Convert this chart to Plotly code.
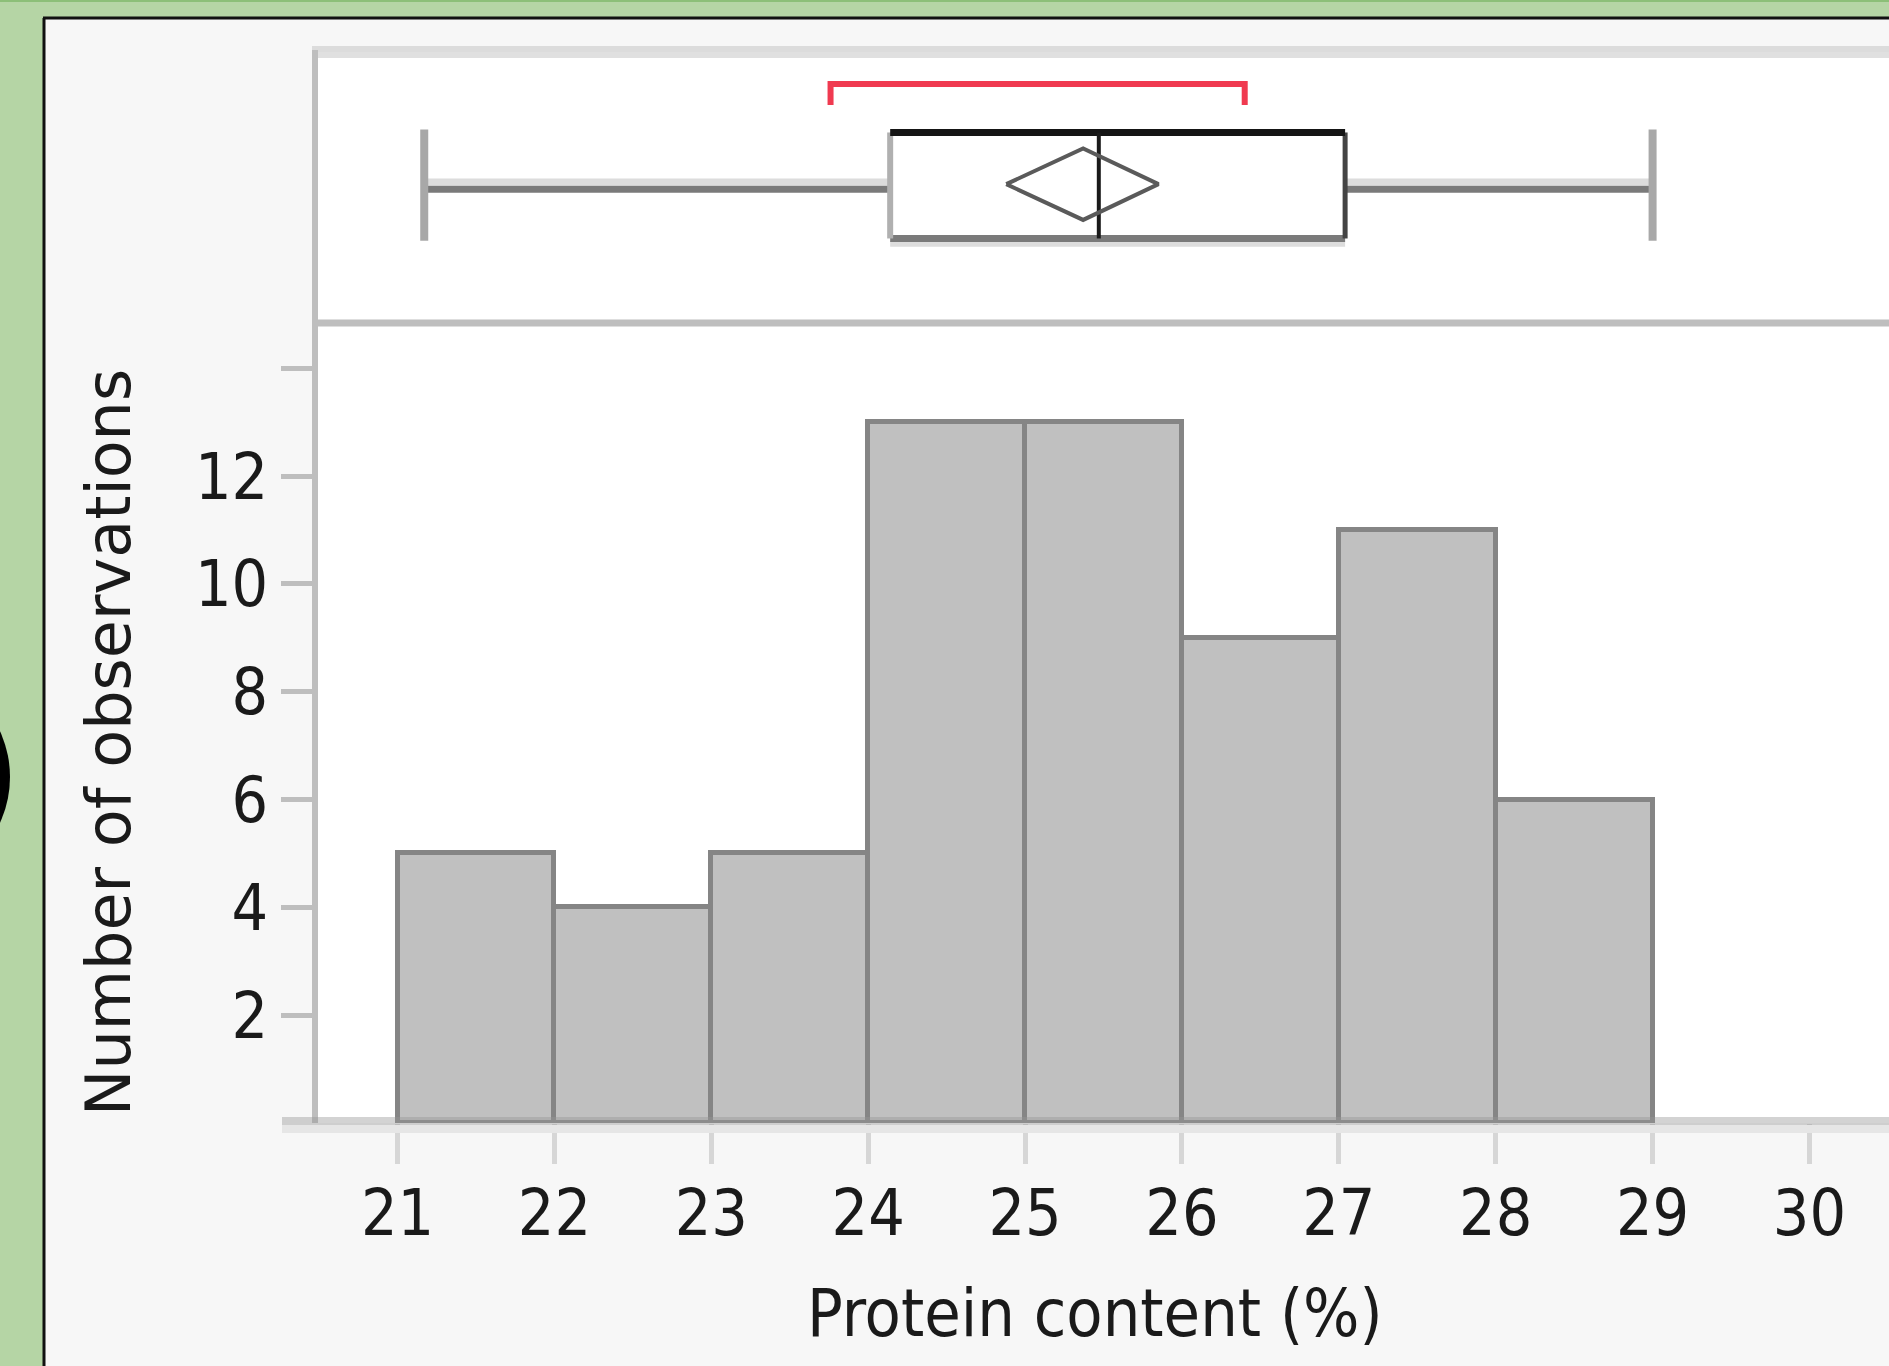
import plotly.graph_objects as go

# ---------------- data ----------------
bin_left = [21, 22, 23, 24, 25, 26, 27, 28]
counts = [5, 4, 5, 13, 13, 9, 11, 6]
bin_width = 1
x_ticks = [21, 22, 23, 24, 25, 26, 27, 28, 29, 30]
x_tick_labels = [str(v) for v in x_ticks]
y_ticks = [2, 4, 6, 8, 10, 12, 14]
y_tick_labels = ["2", "4", "6", "8", "10", "12", ""]

whisker_low = 21.17
q1 = 24.14
median = 25.47
q3 = 27.04
whisker_high = 29.0
mean = 25.37
mean_ci_low = 24.88
mean_ci_high = 25.85
short_half_low = 23.76
short_half_high = 26.40

x_title = "Protein content (%)"
y_title = "Number of observations"

# ---------------- layout geometry (pixels) ----------------
W, H = 1889, 1366
L, R, T, B = 316, 1889, 58, 1123
SEP = 323


def px(x):
    return (x - L) / (R - L)


def py(y):
    return (B - y) / (B - T)


split = py(SEP)

fig = go.Figure()

centers = [b + bin_width / 2 for b in bin_left]
fig.add_trace(go.Bar(
    x=centers, y=counts, width=bin_width,
    marker=dict(color="#C0C0C0", line=dict(color="#858585", width=5)),
    xaxis="x", yaxis="y", hoverinfo="x+y", showlegend=False,
))

# box-plot panel traces (y2 in 0..1)
box_bot, box_top = 0.319, 0.719
cap_bot, cap_top = 0.31, 0.73
wy = 0.505
for (a, b) in [(whisker_low, q1), (q3, whisker_high)]:
    fig.add_trace(go.Scatter(x=[a, b], y=[wy + 0.027, wy + 0.027], mode="lines",
                             line=dict(color="#DCDCDC", width=7), xaxis="x2", yaxis="y2",
                             showlegend=False, hoverinfo="skip"))
    fig.add_trace(go.Scatter(x=[a, b], y=[wy, wy], mode="lines",
                             line=dict(color="#7A7A7A", width=7), xaxis="x2", yaxis="y2",
                             showlegend=False, hoverinfo="skip"))
for v in [whisker_low, whisker_high]:
    fig.add_trace(go.Scatter(x=[v, v], y=[cap_bot, cap_top], mode="lines",
                             line=dict(color="#A8A8A8", width=8), xaxis="x2", yaxis="y2",
                             showlegend=False, hoverinfo="skip"))
fig.add_trace(go.Scatter(x=[q1, q3, q3, q1, q1], y=[box_bot, box_bot, box_top, box_top, box_bot],
                         mode="lines", fill="toself", fillcolor="white",
                         line=dict(color="rgba(0,0,0,0)", width=0), xaxis="x2", yaxis="y2",
                         showlegend=False, hoverinfo="skip"))
fig.add_trace(go.Scatter(x=[q1, q3], y=[box_bot - 0.02, box_bot - 0.02], mode="lines",
                         line=dict(color="#DDDDDD", width=6), xaxis="x2", yaxis="y2",
                         showlegend=False, hoverinfo="skip"))
fig.add_trace(go.Scatter(x=[q1, q3], y=[box_bot, box_bot], mode="lines",
                         line=dict(color="#7A7A7A", width=7), xaxis="x2", yaxis="y2",
                         showlegend=False, hoverinfo="skip"))
fig.add_trace(go.Scatter(x=[q1, q1], y=[box_bot, box_top], mode="lines",
                         line=dict(color="#B0B0B0", width=6), xaxis="x2", yaxis="y2",
                         showlegend=False, hoverinfo="skip"))
fig.add_trace(go.Scatter(x=[q3, q3], y=[box_bot, box_top], mode="lines",
                         line=dict(color="#444444", width=5), xaxis="x2", yaxis="y2",
                         showlegend=False, hoverinfo="skip"))
fig.add_trace(go.Scatter(x=[q1, q3], y=[box_top, box_top], mode="lines",
                         line=dict(color="#151515", width=7), xaxis="x2", yaxis="y2",
                         showlegend=False, hoverinfo="skip"))
fig.add_trace(go.Scatter(x=[median, median], y=[box_bot, box_top], mode="lines",
                         line=dict(color="#1A1A1A", width=4), xaxis="x2", yaxis="y2",
                         showlegend=False, hoverinfo="skip"))
dc, dh = 0.524, 0.135
fig.add_trace(go.Scatter(x=[mean_ci_low, mean, mean_ci_high, mean, mean_ci_low],
                         y=[dc, dc + dh, dc, dc - dh, dc], mode="lines",
                         line=dict(color="#5A5A5A", width=4), xaxis="x2", yaxis="y2",
                         showlegend=False, hoverinfo="skip"))
fig.add_trace(go.Scatter(x=[short_half_low, short_half_low, short_half_high, short_half_high],
                         y=[0.823, 0.902, 0.902, 0.823], mode="lines",
                         line=dict(color="#F03A50", width=6), xaxis="x2", yaxis="y2",
                         showlegend=False, hoverinfo="skip"))

tick_font = dict(family="DejaVu Sans Condensed, DejaVu Sans", size=64, color="#1A1A1A")

fig.update_layout(
    width=W, height=H,
    margin=dict(l=L, r=W - R, t=T, b=H - B, pad=0),
    paper_bgcolor="#F7F7F7",
    plot_bgcolor="white",
    showlegend=False,
    bargap=0,
    xaxis=dict(domain=[0, 1], anchor="y", range=[20.48, 30.507],
               tickmode="array", tickvals=x_ticks, ticktext=x_tick_labels,
               ticks="outside", ticklen=40, tickwidth=5, tickcolor="#D6D6D6",
               tickfont=tick_font, ticklabelstandoff=-6,
               showgrid=False, zeroline=False, showline=False),
    yaxis=dict(domain=[0, split], anchor="x", range=[0, 14.84],
               tickmode="array", tickvals=y_ticks, ticktext=y_tick_labels,
               ticks="outside", ticklen=34, tickwidth=5, tickcolor="#BEBEBE",
               tickfont=tick_font, ticklabelstandoff=0,
               showgrid=False, zeroline=False, showline=False),
    xaxis2=dict(domain=[0, 1], anchor="y2", matches="x", showticklabels=False,
                ticks="", showgrid=False, zeroline=False, showline=False),
    yaxis2=dict(domain=[split, 1], anchor="x2", range=[0, 1], showticklabels=False,
                ticks="", showgrid=False, zeroline=False, showline=False),
)

shapes = []
shapes.append(dict(type="rect", xref="paper", yref="paper", x0=px(0), x1=px(43), y0=py(H), y1=py(0),
                   fillcolor="#B5D5A5", line=dict(width=0), layer="above"))
shapes.append(dict(type="rect", xref="paper", yref="paper", x0=px(0), x1=px(W), y0=py(17), y1=py(0),
                   fillcolor="#B5D5A5", line=dict(width=0), layer="above"))
shapes.append(dict(type="line", xref="paper", yref="paper", x0=px(0), x1=px(W), y0=py(1), y1=py(1),
                   line=dict(color="#8CBF78", width=2), layer="above"))
shapes.append(dict(type="line", xref="paper", yref="paper", x0=px(44), x1=px(44), y0=py(H), y1=py(18),
                   line=dict(color="#111111", width=3), layer="above"))
shapes.append(dict(type="line", xref="paper", yref="paper", x0=px(43), x1=px(W), y0=py(18), y1=py(18),
                   line=dict(color="#111111", width=3), layer="above"))
shapes.append(dict(type="circle", xref="paper", yref="paper", x0=px(-210), x1=px(10), y0=py(887), y1=py(667),
                   fillcolor="#000000", line=dict(width=0), layer="above"))
shapes.append(dict(type="rect", xref="paper", yref="paper", x0=px(312), x1=px(W), y0=py(52), y1=py(46),
                   fillcolor="#DCDCDC", line=dict(width=0), layer="above"))
shapes.append(dict(type="rect", xref="paper", yref="paper", x0=px(312), x1=px(W), y0=py(58), y1=py(52),
                   fillcolor="#E0E0E0", line=dict(width=0), layer="above"))
shapes.append(dict(type="line", xref="paper", yref="paper", x0=px(315), x1=px(315), y0=py(B), y1=py(50),
                   line=dict(color="#BEBEBE", width=6), layer="above"))
shapes.append(dict(type="line", xref="paper", yref="paper", x0=px(312), x1=px(W), y0=py(SEP), y1=py(SEP),
                   line=dict(color="#BEBEBE", width=7), layer="above"))
shapes.append(dict(type="rect", xref="paper", yref="paper", x0=px(282), x1=px(W), y0=py(1125), y1=py(1117),
                   fillcolor="rgba(150,150,150,0.42)", line=dict(width=0), layer="above"))
shapes.append(dict(type="rect", xref="paper", yref="paper", x0=px(282), x1=px(W), y0=py(1133), y1=py(1125),
                   fillcolor="#E6E6E6", line=dict(width=0), layer="above"))
fig.update_layout(shapes=shapes)

fig.add_annotation(text=x_title, xref="paper", yref="paper", x=px(1095), y=py(1313),
                   xanchor="center", yanchor="middle", showarrow=False,
                   font=dict(family="DejaVu Sans Condensed, DejaVu Sans", size=66, color="#1A1A1A"))
fig.add_annotation(text=y_title, xref="paper", yref="paper", x=px(108), y=py(743),
                   xanchor="center", yanchor="middle", showarrow=False, textangle=-90,
                   font=dict(family="DejaVu Sans", size=62, color="#1A1A1A"))

fig.write_html("out.html", config={"displayModeBar": False},
               post_script="document.body.style.margin='0';document.body.style.overflow='hidden';")
